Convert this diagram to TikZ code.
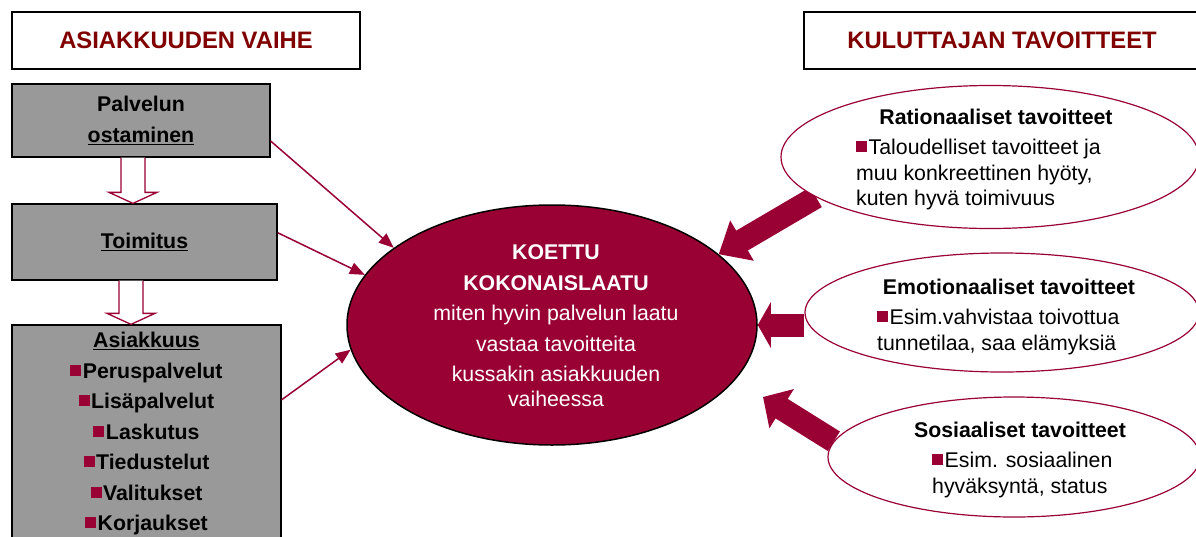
\documentclass[tikz,border=0pt]{standalone}
\usepackage{xcolor}
\usepackage{fontspec}
\setmainfont{Liberation Sans}
\usepackage{tikz}
\usetikzlibrary{calc}
\usetikzlibrary{arrows.meta}
\usetikzlibrary{shapes.geometric}
\usetikzlibrary{backgrounds}
\definecolor{wine}{RGB}{153,0,51}
\definecolor{headred}{RGB}{128,0,0}
\definecolor{boxgray}{RGB}{153,153,153}
\newcommand{\sqmark}{{\color{wine}\rule[2.5pt]{11pt}{11pt}}\hspace{1.5pt}}

\begin{document}
\begin{tikzpicture} [x=1pt, y=-1pt,
  font=\fontsize{21.3}{30.5}\selectfont,
  header/.style={draw=black, line width=1.5pt, fill=white, minimum height=57pt, inner sep=0pt, text=headred, font=\fontsize{23.8}{28}\selectfont\bfseries},
  phase/.style={draw=black, line width=1.3pt, fill=boxgray, inner sep=0pt, align=center, font=\fontsize{21.3}{30.5}\selectfont\bfseries},
  goal/.style={ellipse, draw=wine, line width=1.2pt, fill=white, inner sep=0pt},
  goaltitle/.style={font=\fontsize{21.3}{25.5}\selectfont\bfseries},
  goalbody/.style={align=left, anchor=north west, inner sep=0pt, font=\fontsize{21.3}{25.5}\selectfont},
  thinarrow/.style={wine, line width=1.5pt, -{Triangle[length=15pt,width=12pt]}},
  bigarrow/.style={wine, line width=23pt, -{Triangle[length=#1,width=45pt]}},
  hollow/.style={wine, line width=1.3pt, fill=white, line join=miter}]
\useasboundingbox (0,0) rectangle (1196,536);
\clip (0,0) rectangle (1196,536);

\node[header, minimum width=348pt] (phasehead) at (186,40.5) {ASIAKKUUDEN VAIHE};
\node[header, minimum width=396pt] (goalhead) at (1002,40.5) {KULUTTAJAN TAVOITTEET};

\node[phase, minimum width=258pt, minimum height=73pt] (buy) at (141,120.5) {Palvelun\\\underline{ostaminen}};
\node[phase, minimum width=265pt, minimum height=76pt] (deliv) at (144.5,242) {\underline{Toimitus}};
\node[phase, minimum width=269pt, minimum height=217pt] (cust) at (146.5,433.5) {\underline{Asiakkuus}\\\sqmark Peruspalvelut\\\sqmark Lisäpalvelut\\\sqmark Laskutus\\\sqmark Tiedustelut\\\sqmark Valitukset\\\sqmark Korjaukset};

\foreach \up/\down/\x in {buy/deliv/133, deliv/cust/131} {
  \coordinate (hd top) at (\x,0 |- \up.south);
  \coordinate (hd tip) at (\x,0 |- \down.north);
  \draw[hollow] ([xshift=-12pt]hd top) -- ([xshift=-12pt,yshift=11pt]hd tip) -- ([xshift=-24pt,yshift=11pt]hd tip) -- (hd tip)
    -- ([xshift=24pt,yshift=11pt]hd tip) -- ([xshift=12pt,yshift=11pt]hd tip) -- ([xshift=12pt]hd top);
}

\node[ellipse, draw=black, line width=1.5pt, fill=wine, minimum width=410pt, minimum height=240pt, inner sep=0pt] (core) at (552,325) {};
\node[text=white, align=center] (coretext) at (556,326) {\textbf{KOETTU}\\\textbf{KOKONAISLAATU}\\miten hyvin palvelun laatu\\vastaa tavoitteita\\kussakin asiakkuuden\\[-5.5pt]vaiheessa};

\node[goal, minimum width=418pt, minimum height=143pt] (rat) at (990,157) {};
\node[goal, minimum width=394pt, minimum height=119pt] (emo) at (1002,312.5) {};
\node[goal, minimum width=372pt, minimum height=120pt] (soc) at (1014,457) {};

\node[goaltitle] (rattitle) at (996,117) {Rationaaliset tavoitteet};
\node[goalbody] (ratbody) at (856,139) {\sqmark Taloudelliset tavoitteet ja\\muu konkreettinen hyöty,\\kuten hyvä toimivuus};
\node[goaltitle] (emotitle) at (1009,287) {Emotionaaliset tavoitteet};
\node[goalbody] (emobody) at (877,309) {\sqmark Esim.vahvistaa toivottua\\tunnetilaa, saa elämyksiä};
\node[goaltitle] (soctitle) at (1020,430) {Sosiaaliset tavoitteet};
\node[goalbody] (socbody) at (932,452) {\sqmark Esim. sosiaalinen\\hyväksyntä, status};

\coordinate (soctip) at (763,397);
\begin{scope}[on background layer]
\draw[bigarrow=27pt] (rat.193) -- (core.23);
\draw[bigarrow=13pt] (core.east -| emo.west) -- (core.east);
\draw[bigarrow=22pt] (soc.175) -- (soctip);
\end{scope}

\foreach \from/\a/\b in {buy/-9.5/154.5, deliv/4.3/165, cust/14/187}
  \draw[thinarrow] (\from.\a) -- (core.\b);
\end{tikzpicture}
\end{document}
